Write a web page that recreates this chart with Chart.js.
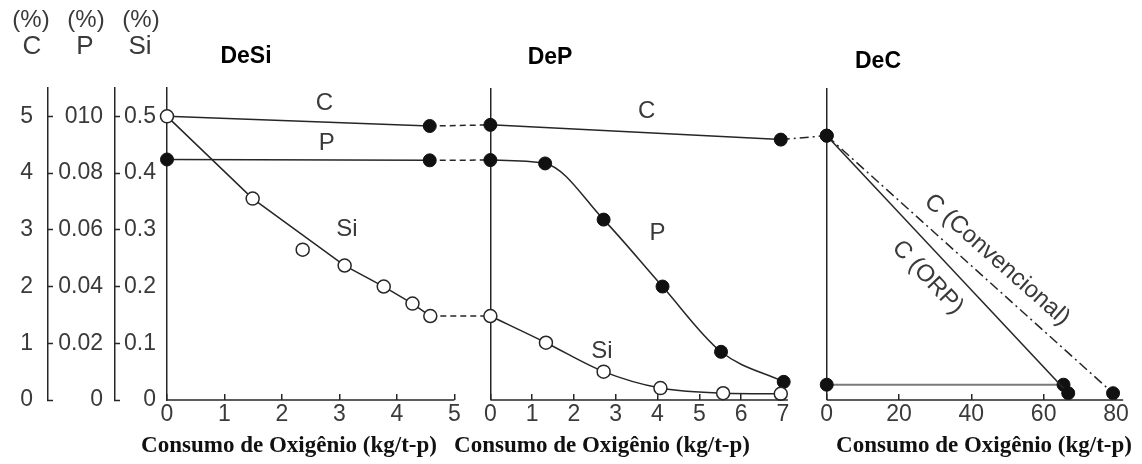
<!DOCTYPE html>
<html>
<head>
<meta charset="utf-8">
<title>DeSi / DeP / DeC</title>
<script src="https://cdn.jsdelivr.net/npm/chart.js@4.4.0/dist/chart.umd.min.js"></script>
<style>
  html, body { margin: 0; padding: 0; background: #fff; }
  #wrap { position: relative; width: 1142px; height: 464px; }
</style>
</head>
<body>
<div id="wrap"><canvas id="chart" width="1142" height="464"></canvas></div>
<script>
(function () {
    'use strict';

    // ── Data (C, P and Si in %, oxygen in kg/t-p) ────────────────────────────
    // DeSi
    var desiCX    = [0, 4.57];
    var desiC     = [5.0, 4.83];
    var desiPX    = [0, 4.57];
    var desiP     = [0.0848, 0.0845];
    var desiSiX   = [0, 1.49, 3.09, 3.77, 4.27, 4.58];
    var desiSi    = [0.50, 0.355, 0.237, 0.20, 0.17, 0.148];
    var desiSi2X  = [2.36];            // lone point off the Si curve
    var desiSi2   = [0.265];
    // DeP
    var depCX     = [0, 6.95];
    var depC      = [4.85, 4.59];
    var depPX     = [0, 1.31, 2.71, 4.12, 5.52, 7.02];
    var depP      = [0.0846, 0.0834, 0.0636, 0.040, 0.017, 0.0064];
    var depSiX    = [0, 1.33, 2.71, 4.07, 5.57, 6.95];
    var depSi     = [0.148, 0.101, 0.050, 0.021, 0.012, 0.011];
    // DeC
    var decOrpX   = [0, 66.8];
    var decOrp    = [4.66, 0.12];
    var decConvX  = [0, 79.2];
    var decConv   = [4.66, 0.12];
    var decEndX   = [0, 65.5];
    var decEnd    = [0.27, 0.27];

    // Tick values / labels
    var cTicks    = [0, 1, 2, 3, 4, 5];
    var cLabels   = ['0', '1', '2', '3', '4', '5'];
    var pTicks    = [0, 0.02, 0.04, 0.06, 0.08, 0.10];
    var pLabels   = ['0', '0.02', '0.04', '0.06', '0.08', '010'];
    var siTicks   = [0, 0.1, 0.2, 0.3, 0.4, 0.5];
    var siLabels  = ['0', '0.1', '0.2', '0.3', '0.4', '0.5'];
    var desiTicks = [0, 1, 2, 3, 4, 5];
    var depTicks  = [0, 1, 2, 3, 4, 5, 6, 7];
    var decTicks  = [0, 20, 40, 60, 80];

    var xTitle    = 'Consumo de Oxigênio (kg/t-p)';

    // ── Styles ───────────────────────────────────────────────────────────────
    var INK  = '#262626';
    var TXT  = '#3a3a3a';
    var SANS = "'Liberation Sans', Arial, sans-serif";
    var SERIF = "'Liberation Serif', 'Times New Roman', serif";
    var tickFont = { family: SANS, size: 23 };

    function pts(xs, ys) {
        return xs.map(function (x, i) { return { x: x, y: ys[i] }; });
    }
    function fixedTicks(values) {
        return function (scale) {
            scale.ticks = values.map(function (v) { return { value: v }; });
        };
    }

    function yAxis(ticks, labels, max, weight, width, pad, withTicks) {
        return {
            type: 'linear', position: 'left', weight: weight,
            min: 0, max: max,
            afterBuildTicks: fixedTicks(ticks),
            afterFit: function (s) { s.width = width; },
            border: { display: true, color: INK, width: 1.5 },
            grid: { drawOnChartArea: false, drawTicks: withTicks, tickLength: -5,
                    tickColor: INK, tickWidth: 1.5 },
            ticks: { font: tickFont, color: TXT, padding: pad,
                     callback: function (v, i) { return labels[i]; } }
        };
    }

    function xAxis(ticks, max, weight, zeroLine) {
        return {
            type: 'linear', position: 'bottom', stack: 'panels', stackWeight: weight,
            min: 0, max: max,
            afterBuildTicks: fixedTicks(ticks),
            afterFit: function (s) { s.height = 64; },
            border: { display: false },
            grid: {
                drawOnChartArea: zeroLine,
                color: function (c) {
                    return c.tick && c.tick.value === 0 ? INK : 'rgba(0,0,0,0)';
                },
                lineWidth: 1.5,
                tickLength: -6, tickColor: INK, tickWidth: 1.5
            },
            ticks: { font: tickFont, color: TXT, padding: 7, autoSkip: false, maxRotation: 0 }
        };
    }

    var filled = { pointRadius: 6.5, pointBackgroundColor: '#111', pointBorderColor: '#111',
                   pointBorderWidth: 1 };
    var open   = { pointRadius: 6.5, pointBackgroundColor: '#fff', pointBorderColor: INK,
                   pointBorderWidth: 1.5 };

    function series(label, xId, yId, data, marker, extra) {
        var ds = { label: label, xAxisID: xId, yAxisID: yId, data: data,
                   borderColor: INK, borderWidth: 1.5, clip: false, tension: 0 };
        Object.keys(marker).forEach(function (k) { ds[k] = marker[k]; });
        Object.keys(extra || {}).forEach(function (k) { ds[k] = extra[k]; });
        return ds;
    }

    // ── Dashed links between panels ──────────────────────────────────────────
    var links = [
        ['DeSi C',  'DeP C',  [6, 4]],
        ['DeSi P',  'DeP P',  [6, 4]],
        ['DeSi Si', 'DeP Si', [6, 4]],
        ['DeP C',   'DeC ORP', [9, 4, 2, 4]]
    ];
    function metaByLabel(chart, label) {
        var idx = chart.data.datasets.findIndex(function (d) { return d.label === label; });
        return chart.getDatasetMeta(idx);
    }
    var linkPlugin = {
        id: 'links',
        beforeDatasetsDraw: function (chart) {
            var ctx = chart.ctx;
            ctx.save();
            ctx.strokeStyle = INK;
            ctx.lineWidth = 1.5;
            links.forEach(function (l) {
                var a = metaByLabel(chart, l[0]).data;
                var b = metaByLabel(chart, l[1]).data;
                var p = a[a.length - 1], q = b[0];
                ctx.setLineDash(l[2]);
                ctx.beginPath();
                ctx.moveTo(p.x, p.y);
                ctx.lineTo(q.x, q.y);
                ctx.stroke();
            });
            ctx.restore();
        }
    };

    // ── Bottom axis lines (each panel ends just past its last tick) ──────────
    var axisEnds = { x1: 5, x2: 7.12, x3: 82 };
    var axisLinePlugin = {
        id: 'axisLines',
        afterDatasetsDraw: function (chart) {
            var ctx = chart.ctx;
            var y = chart.scales.yC.getPixelForValue(0);
            ctx.save();
            ctx.strokeStyle = INK;
            ctx.lineWidth = 1.5;
            Object.keys(axisEnds).forEach(function (id) {
                var s = chart.scales[id];
                ctx.beginPath();
                ctx.moveTo(s.getPixelForValue(0), y);
                ctx.lineTo(s.getPixelForValue(axisEnds[id]), y);
                ctx.stroke();
            });
            ctx.restore();
        }
    };

    // ── Text: curve labels in data space, headers / titles on the page ───────
    var curveLabels = [   // text, x axis, x, C-scale y, rotation (deg)
        ['C',  'x1', 2.74, 5.23, 0],
        ['P',  'x1', 2.78, 4.52, 0],
        ['Si', 'x1', 3.13, 3.00, 0],
        ['C',  'x2', 3.74, 5.09, 0],
        ['P',  'x2', 4.00, 2.94, 0],
        ['Si', 'x2', 2.67, 0.86, 0],
        ['C (Convencional)', 'x3', 47.1, 2.47, 41.5],
        ['C (ORP)',          'x3', 27.9, 2.16, 46.5]
    ];
    var pageLabels = [    // text, x, y, font, colour
        ['(%)', 31, 20, '24px ' + SANS, TXT],
        ['(%)', 86, 20, '24px ' + SANS, TXT],
        ['(%)', 141, 20, '24px ' + SANS, TXT],
        ['C',  32, 47, '26px ' + SANS, TXT],
        ['P',  85, 47, '26px ' + SANS, TXT],
        ['Si', 140, 47, '26px ' + SANS, TXT],
        ['DeSi', 246, 57, 'bold 23px ' + SANS, '#000'],
        ['DeP',  550, 58, 'bold 23px ' + SANS, '#000'],
        ['DeC',  878, 62, 'bold 23px ' + SANS, '#000'],
        [xTitle, 289, 446, 'bold 23px ' + SERIF, '#111'],
        [xTitle, 602, 446, 'bold 23px ' + SERIF, '#111'],
        [xTitle, 984, 446, 'bold 23px ' + SERIF, '#111']
    ];
    var textPlugin = {
        id: 'texts',
        afterDraw: function (chart) {
            var ctx = chart.ctx;
            ctx.save();
            ctx.textAlign = 'center';
            ctx.textBaseline = 'middle';
            ctx.font = '24px ' + SANS;
            ctx.fillStyle = TXT;
            curveLabels.forEach(function (t) {
                var px = chart.scales[t[1]].getPixelForValue(t[2]);
                var py = chart.scales.yC.getPixelForValue(t[3]);
                ctx.save();
                ctx.translate(px, py);
                ctx.rotate(t[4] * Math.PI / 180);
                ctx.fillText(t[0], 0, 0);
                ctx.restore();
            });
            pageLabels.forEach(function (t) {
                ctx.font = t[3];
                ctx.fillStyle = t[4];
                ctx.fillText(t[0], t[1], t[2]);
            });
            ctx.restore();
        }
    };

    new Chart(document.getElementById('chart'), {
        type: 'line',
        data: {
            datasets: [
                series('DeSi Si', 'x1', 'ySi', pts(desiSiX, desiSi), open),
                series('DeSi Si2', 'x1', 'ySi', pts(desiSi2X, desiSi2), open, { showLine: false }),
                series('DeSi C', 'x1', 'yC', pts(desiCX, desiC), filled, { pointRadius: [0, 6.5] }),
                series('DeSi P', 'x1', 'yP', pts(desiPX, desiP), filled),
                series('DeP Si', 'x2', 'ySi', pts(depSiX, depSi), open, { cubicInterpolationMode: 'monotone' }),
                series('DeP C', 'x2', 'yC', pts(depCX, depC), filled),
                series('DeP P', 'x2', 'yP', pts(depPX, depP), filled, { cubicInterpolationMode: 'monotone' }),
                series('DeC ORP', 'x3', 'yC', pts(decOrpX, decOrp), filled),
                series('DeC Conv', 'x3', 'yC', pts(decConvX, decConv), filled, { borderDash: [10, 4, 2, 4] }),
                series('DeC end', 'x3', 'yC', pts(decEndX, decEnd), filled, { borderColor: '#7a7a7a', borderWidth: 2 })
            ]
        },
        options: {
            responsive: false,
            animation: false,
            layout: { padding: { top: 88, left: 0, right: 15, bottom: 0 } },
            plugins: { legend: { display: false }, tooltip: { enabled: false } },
            scales: {
                yC:  yAxis(cTicks,  cLabels,  5.5,  3, 48, 20, true),
                yP:  yAxis(pTicks,  pLabels,  0.11, 2, 67, 17, true),
                ySi: yAxis(siTicks, siLabels, 0.55, 1, 52, 11, false),
                x1:  xAxis(desiTicks, 5.625, 324, false),
                x2:  xAxis(depTicks, 8.05, 337, true),
                x3:  xAxis(decTicks, 82, 297, true)
            }
        },
        plugins: [linkPlugin, axisLinePlugin, textPlugin]
    });
})();
</script>
</body>
</html>
